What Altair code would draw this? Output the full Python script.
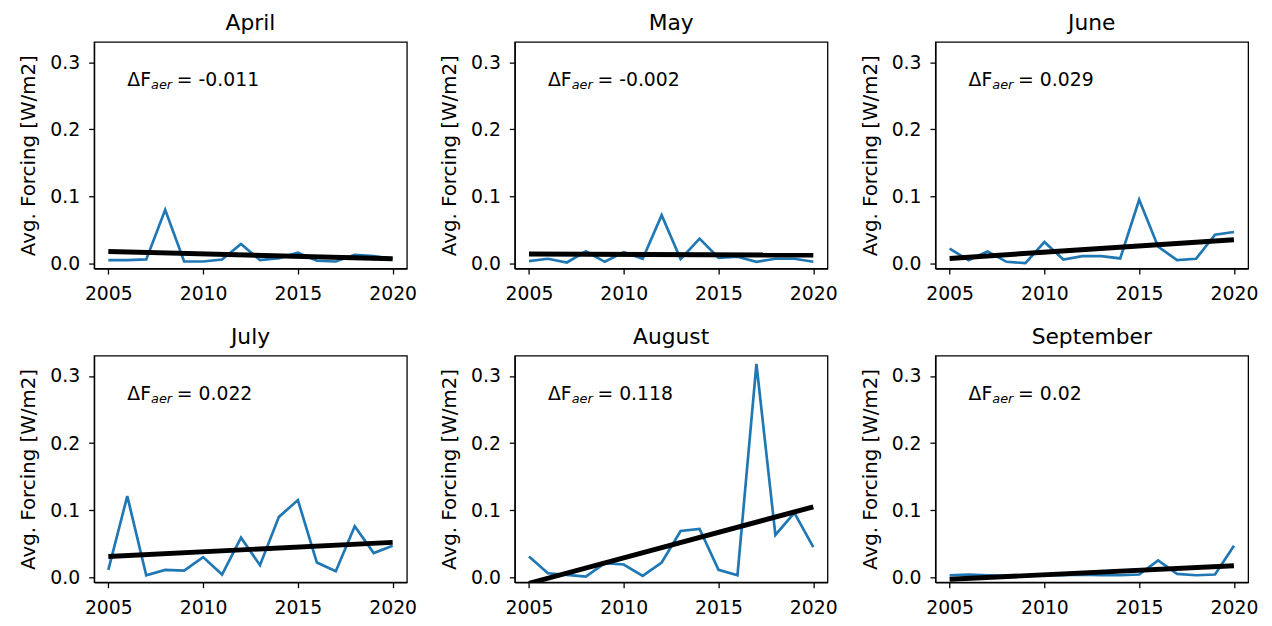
import altair as alt
import pandas as pd

years = list(range(2005, 2021))
months = ["April", "May", "June", "July", "August", "September"]

april = [0.005, 0.005, 0.006, 0.080, 0.003, 0.003, 0.006, 0.029, 0.005, 0.008,
         0.016, 0.004, 0.003, 0.013, 0.011, 0.007]
may = [0.0035, 0.007, 0.0015, 0.018, 0.0025, 0.017, 0.007, 0.072, 0.0065, 0.037,
       0.0085, 0.010, 0.0025, 0.007, 0.007, 0.0025]
june = [0.022, 0.005, 0.018, 0.0025, 0.0005, 0.032, 0.006, 0.011, 0.011, 0.0075,
        0.095, 0.025, 0.005, 0.007, 0.043, 0.047]
july = [0.011, 0.121, 0.003, 0.011, 0.010, 0.030, 0.004, 0.059, 0.018, 0.090,
        0.115, 0.022, 0.009, 0.076, 0.036, 0.047]
august = [0.031, 0.006, 0.0035, 0.001, 0.021, 0.019, 0.002, 0.022, 0.069, 0.072,
          0.011, 0.003, 0.318, 0.063, 0.096, 0.045]
september = [0.003, 0.004, 0.003, 0.002, 0.002, 0.003, 0.003, 0.004, 0.003, 0.003,
             0.004, 0.025, 0.005, 0.003, 0.004, 0.047]
series = [april, may, june, july, august, september]

trend_start = [0.018, 0.014, 0.0075, 0.031, -0.009, -0.003]
trend_end = [0.007, 0.0125, 0.0355, 0.052, 0.105, 0.017]
delta_labels = ["-0.011", "-0.002", "0.029", "0.022", "0.118", "0.02"]

x_ticks = [2005, 2010, 2015, 2020]
y_ticks = [0.0, 0.1, 0.2, 0.3]

# annotation anchor (data coordinates)
ANNO_X = 2006.0
ANNO_Y = 0.264

FONT = "DejaVu Sans"
W, H = 316, 229

xscale = alt.Scale(domain=[2004.25, 2020.75], nice=False, zero=False)
yscale = alt.Scale(domain=[-0.0075, 0.3305], nice=False, zero=False)


def panel(i):
    name = months[i]
    df = pd.DataFrame({"year": years, "value": series[i]})
    tr = pd.DataFrame({"year": [years[0], years[-1]],
                       "value": [trend_start[i], trend_end[i]]})
    an = pd.DataFrame({"year": [ANNO_X], "value": [ANNO_Y],
                       "d": ["= " + delta_labels[i]]})

    xenc = alt.X("year:Q", scale=xscale,
                 axis=alt.Axis(values=x_ticks, format="d", title=None))
    yenc = alt.Y("value:Q", scale=yscale,
                 axis=alt.Axis(values=y_ticks, format=".1f",
                               title="Avg. Forcing [W/m2]"))

    line = alt.Chart(df).mark_line(color="#1f77b4", strokeWidth=2.7, clip=True).encode(
        x=xenc, y=yenc)
    trend = alt.Chart(tr).mark_line(color="black", strokeWidth=5, clip=True).encode(
        x="year:Q", y="value:Q")
    t1 = alt.Chart(an).mark_text(text="ΔF", align="left", baseline="alphabetic",
                                 font=FONT, fontSize=19, color="black").encode(
        x="year:Q", y="value:Q")
    t2 = alt.Chart(an).mark_text(text="aer", align="left", baseline="alphabetic",
                                 font=FONT, fontSize=13, fontStyle="italic",
                                 color="black", dx=24, dy=3).encode(
        x="year:Q", y="value:Q")
    t3 = alt.Chart(an).mark_text(align="left", baseline="alphabetic",
                                 font=FONT, fontSize=19, color="black", dx=50).encode(
        x="year:Q", y="value:Q", text="d:N")
    return alt.layer(line, trend, t1, t2, t3).properties(
        width=W, height=H,
        title=alt.TitleParams(name, fontSize=22, font=FONT, fontWeight="normal",
                              color="black", offset=7))


chart = alt.concat(*[panel(i) for i in range(6)], columns=3, bounds="flush",
                   spacing={"row": 88, "column": 109}).configure_view(
    stroke="black", strokeWidth=1.3
).configure_axis(
    grid=False, domainColor="black", domainWidth=1.3, tickColor="black",
    tickWidth=1.3, tickSize=5.5, labelFont=FONT, labelFontSize=19,
    labelColor="black", titleFont=FONT, titleFontSize=20, titleFontWeight="normal",
    titleColor="black", titlePadding=11
).configure_axisX(labelPadding=11).configure_axisY(labelPadding=9).properties(
    padding={"left": 10, "top": 0, "right": 5, "bottom": 5}, background="white")

chart.save("out.html", embed_options={"renderer": "svg", "actions": False})
